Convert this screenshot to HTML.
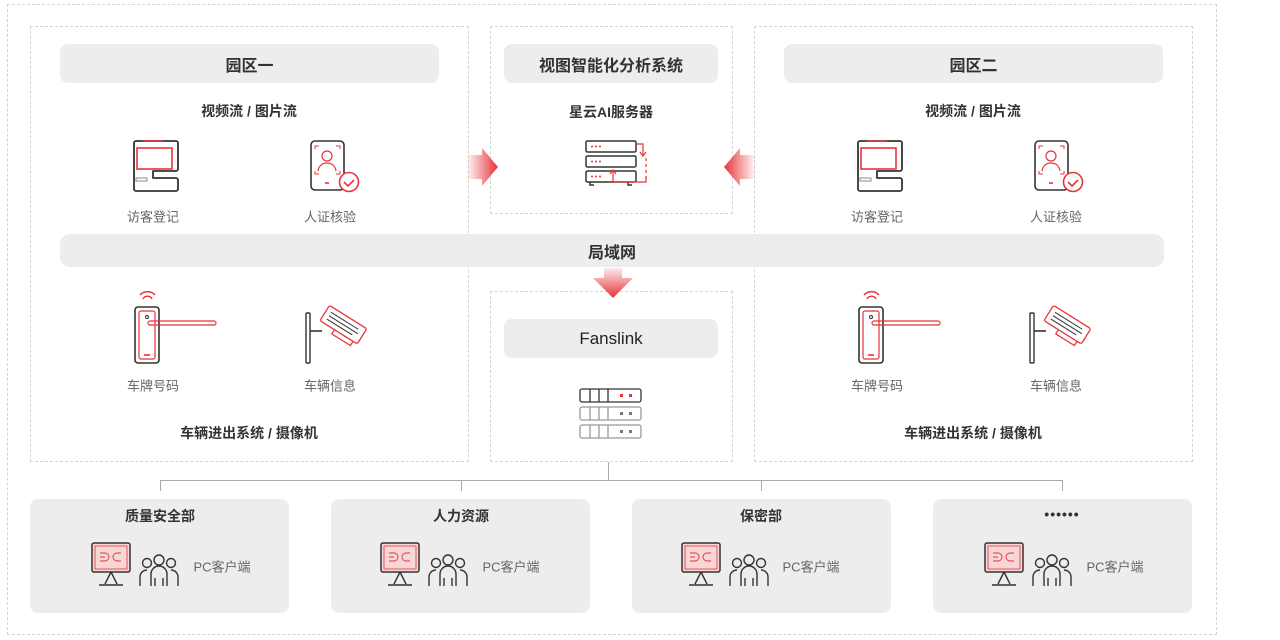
<!DOCTYPE html>
<html><head><meta charset="utf-8">
<style>
*{margin:0;padding:0;box-sizing:border-box}
body{width:1280px;height:640px;background:#fff;position:relative;overflow:hidden;font-family:"Liberation Sans","Noto Sans CJK SC",sans-serif;color:#333}
.d{position:absolute;border:1px dashed #d4d4d4}
.bar{position:absolute;background:#ededed;border-radius:8px;font-size:16px;font-weight:bold;color:#333;display:flex;align-items:center;justify-content:center}
.t{position:absolute;font-size:14px;transform:translate(-50%,-50%);white-space:nowrap}
.b{font-weight:bold;color:#333}
.g{color:#666;font-size:13px}
.box{position:absolute;background:#ededed;border-radius:8px;top:499px;width:259px;height:114px}
svg{position:absolute;left:0;top:0}
</style></head><body>
<div class="d" style="left:7px;top:4px;width:1210px;height:631px"></div>
<div class="d" style="left:30px;top:26px;width:439px;height:436px"></div>
<div class="d" style="left:490px;top:26px;width:243px;height:188px"></div>
<div class="d" style="left:490px;top:291px;width:243px;height:171px"></div>
<div class="d" style="left:754px;top:26px;width:439px;height:436px"></div>

<div class="bar" style="left:60px;top:44px;width:379px;height:39px">园区一</div>
<div class="bar" style="left:504px;top:44px;width:214px;height:39px">视图智能化分析系统</div>
<div class="bar" style="left:784px;top:44px;width:379px;height:39px">园区二</div>
<div class="bar" style="left:60px;top:234px;width:1104px;height:33px;border-radius:10px">局域网</div>
<div class="bar" style="left:504px;top:319px;width:214px;height:39px;font-weight:normal;font-size:17px;color:#222">Fanslink</div>

<div class="box" style="left:30px"></div>
<div class="box" style="left:331px"></div>
<div class="box" style="left:632px"></div>
<div class="box" style="left:933px"></div>

<div class="t b" style="left:249px;top:111px">视频流 / 图片流</div>
<div class="t b" style="left:973px;top:111px">视频流 / 图片流</div>
<div class="t b" style="left:611px;top:112px">星云AI服务器</div>
<div class="t b" style="left:249px;top:433px">车辆进出系统 / 摄像机</div>
<div class="t b" style="left:973px;top:433px">车辆进出系统 / 摄像机</div>
<div class="t g" style="left:153px;top:216px">访客登记</div>
<div class="t g" style="left:330px;top:216px">人证核验</div>
<div class="t g" style="left:877px;top:216px">访客登记</div>
<div class="t g" style="left:1056px;top:216px">人证核验</div>
<div class="t g" style="left:153px;top:385px">车牌号码</div>
<div class="t g" style="left:330px;top:385px">车辆信息</div>
<div class="t g" style="left:877px;top:385px">车牌号码</div>
<div class="t g" style="left:1056px;top:385px">车辆信息</div>

<div class="t b" style="left:160px;top:516px">质量安全部</div>
<div class="t b" style="left:461px;top:516px">人力资源</div>
<div class="t b" style="left:761px;top:516px">保密部</div>
<div class="t b" style="left:1062px;top:514px;letter-spacing:1px">••••••</div>
<div class="t g" style="left:222px;top:566px">PC客户端</div>
<div class="t g" style="left:511px;top:566px">PC客户端</div>
<div class="t g" style="left:811px;top:566px">PC客户端</div>
<div class="t g" style="left:1115px;top:566px">PC客户端</div>

<svg width="1280" height="640" viewBox="0 0 1280 640">
<defs>
<linearGradient id="gr" x1="0" x2="1"><stop offset="0" stop-color="#e8333a" stop-opacity="0"/><stop offset="1" stop-color="#e8333a"/></linearGradient>
<linearGradient id="gl" x1="1" x2="0"><stop offset="0" stop-color="#e8333a" stop-opacity="0"/><stop offset="1" stop-color="#e8333a"/></linearGradient>
<linearGradient id="gd" x1="0" y1="0" x2="0" y2="1"><stop offset="0" stop-color="#e8333a" stop-opacity="0.1"/><stop offset="1" stop-color="#e8333a"/></linearGradient>
<g id="park" fill="none" stroke-width="1.6">
 <path d="M134 143a2 2 0 0 1 2-2h40a2 2 0 0 1 2 2v26a2 2 0 0 1-2 2h-23v7h23a2 2 0 0 1 2 2v9a2 2 0 0 1-2 2h-40a2 2 0 0 1-2-2z" stroke="#333" stroke-width="1.8" stroke-linejoin="round"/>
 <rect x="137" y="148" width="35" height="21" stroke="#e8333a"/>
 <line x1="143" y1="141" x2="163" y2="141" stroke="#e8333a"/>
 <rect x="136" y="178" width="11" height="3" stroke="#888" stroke-width="1"/>
 <rect x="311" y="141" width="33" height="49" rx="4" stroke="#333"/>
 <path d="M315 149v-3h4M336 146h4v3M315 171v3h4M340 171v3h-4" stroke="#e8333a" stroke-width="1"/>
 <circle cx="327" cy="156" r="5" stroke="#e8333a" stroke-width="1.2"/>
 <path d="M318 171c1-6 5-8 9-8s8 2 9 8" stroke="#e8333a" stroke-width="1.2"/>
 <line x1="325" y1="183" x2="329" y2="183" stroke="#e8333a"/>
 <circle cx="349" cy="182" r="9.5" fill="#fff" stroke="#e8333a"/>
 <path d="M344 182l4 4 6-6" stroke="#e8333a"/>
 <path d="M140 295a10 10 0 0 1 15 0M143 299a5 5 0 0 1 9 0" stroke="#e8333a" stroke-width="1.4"/>
 <rect x="135" y="307" width="24" height="56" rx="3" stroke="#333"/>
 <rect x="139" y="311" width="16" height="48" rx="2" stroke="#e8333a" stroke-width="1.2"/>
 <rect x="148" y="321" width="68" height="4" rx="2" stroke="#e8333a" stroke-width="1.2"/>
 <circle cx="147" cy="317" r="1.5" stroke="#333" stroke-width="1"/>
 <line x1="144" y1="355" x2="150" y2="355" stroke="#e8333a"/>
 <rect x="306" y="313" width="4" height="50" rx="1" stroke="#333" stroke-width="1.4"/>
 <line x1="310" y1="331" x2="322" y2="331" stroke="#333"/>
 <g transform="rotate(32 342 325)">
  <rect x="321" y="315" width="44" height="18" rx="2" stroke="#e8333a" stroke-width="1.3"/>
  <path d="M326 320h32M326 324h34M326 328h30" stroke="#333" stroke-width="1"/>
  <path d="M338 333v5h22v-5" stroke="#e8333a" stroke-width="1.2"/>
 </g>
</g>
<g id="pc" fill="none">
 <rect x="92" y="543" width="38" height="29" rx="2" stroke="#333" stroke-width="1.5" fill="#f6d6d6"/>
 <rect x="95" y="546" width="32" height="23" stroke="#e8333a" stroke-width="0.8"/>
 <path d="M100 553h5M100 557h5M100 561h5M105 553a4 4 0 1 1 0 8M121 553h-4a4 4 0 1 0 0 8h4" stroke="#e8333a" stroke-width="0.9"/>
 <path d="M111 572l-6 12M111 572l6 12M99 585h24" stroke="#333" stroke-width="1.4"/>
 <circle cx="147" cy="563" r="4.5" stroke="#333" stroke-width="1.4"/>
 <circle cx="159" cy="560" r="5" stroke="#333" stroke-width="1.4"/>
 <circle cx="171" cy="563" r="4.5" stroke="#333" stroke-width="1.4"/>
 <path d="M140 586v-9a7 7 0 0 1 7-7M151 586v-12a8 8 0 0 1 16 0v12M155 586v-8M163 586v-8M171 570a7 7 0 0 1 7 7v9" stroke="#333" stroke-width="1.4"/>
</g>
</defs>

<use href="#park"/>
<use href="#park" transform="translate(724 0)"/>

<polygon points="466,155 482,155 482,148 498,167 482,186 482,179 466,179" fill="url(#gr)"/>
<polygon points="756,155 740,155 740,148 724,167 740,186 740,179 756,179" fill="url(#gl)"/>
<polygon points="604,268 622,268 622,278 633,278 613,298 593,278 604,278" fill="url(#gd)"/>

<g fill="none" stroke-width="1.5">
 <rect x="586" y="141" width="50" height="11" rx="1.5" stroke="#333" fill="#fff"/>
 <rect x="586" y="156" width="50" height="11" rx="1.5" stroke="#333" fill="#fff"/>
 <rect x="586" y="171" width="50" height="11" rx="1.5" stroke="#333" fill="#fff"/>
 <path d="M590 182v3h4M628 182v3h4" stroke="#333"/>
 <path d="M637 144h6v12M640 152l3 4 3-4M646 158v3M646 164v3M646 170v3M646 176v3" stroke="#e8333a" stroke-width="1.2"/>
 <path d="M646 178v4h-33v-12M610 174l3-4 3 4" stroke="#e8333a" stroke-width="1.2"/>
</g>
<g fill="#e8333a"><circle cx="592" cy="146.5" r="1"/><circle cx="596" cy="146.5" r="1"/><circle cx="600" cy="146.5" r="1"/><circle cx="592" cy="161.5" r="1"/><circle cx="596" cy="161.5" r="1"/><circle cx="600" cy="161.5" r="1"/><circle cx="592" cy="176.5" r="1"/><circle cx="596" cy="176.5" r="1"/><circle cx="600" cy="176.5" r="1"/></g>

<g fill="none" stroke-width="1.3">
 <rect x="580" y="389" width="61" height="13" rx="2" stroke="#333"/>
 <path d="M590 389v13M599 389v13M608 389v13" stroke="#333"/>
 <rect x="580" y="407" width="61" height="13" rx="2" stroke="#999"/>
 <path d="M590 407v13M599 407v13M608 407v13" stroke="#999"/>
 <rect x="580" y="425" width="61" height="13" rx="2" stroke="#999"/>
 <path d="M590 425v13M599 425v13M608 425v13" stroke="#999"/>
</g>
<g><rect x="620" y="394" width="3" height="3" fill="#e8333a"/><rect x="629" y="394" width="3" height="3" fill="#e8333a"/>
<rect x="620" y="412" width="3" height="3" fill="#777"/><rect x="629" y="412" width="3" height="3" fill="#777"/>
<rect x="620" y="430" width="3" height="3" fill="#777"/><rect x="629" y="430" width="3" height="3" fill="#777"/></g>

<g stroke="#aaa" stroke-width="1" fill="none">
 <path d="M608.5 462v18.5M160.5 491v-10.5h902v10.5M461.5 480v11M761.5 480v11"/>
</g>

<use href="#pc"/>
<use href="#pc" transform="translate(289 0)"/>
<use href="#pc" transform="translate(590 0)"/>
<use href="#pc" transform="translate(893 0)"/>
</svg>
</body></html>
